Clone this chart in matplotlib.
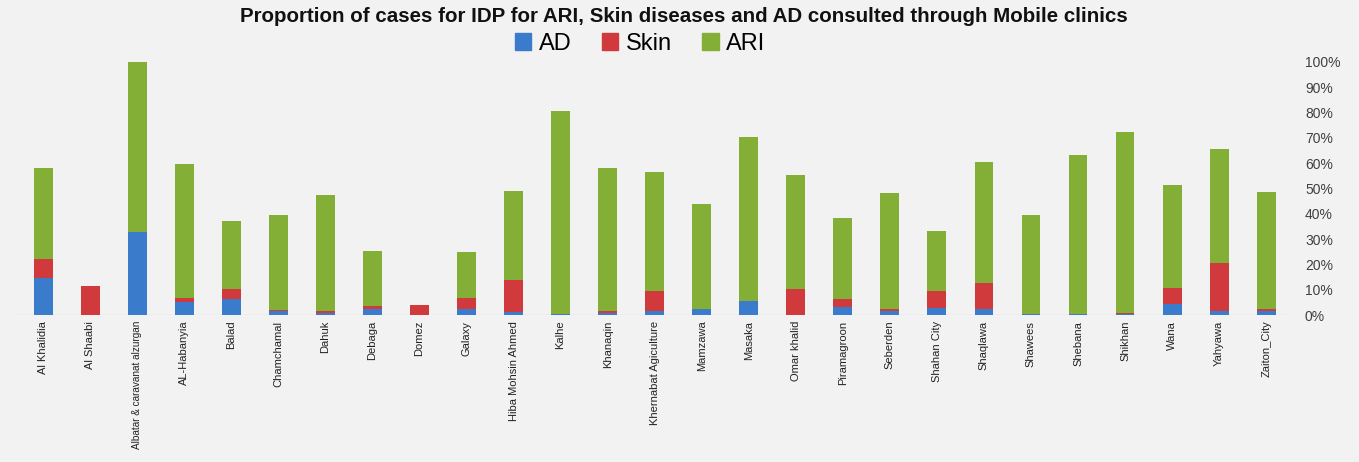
import matplotlib.pyplot as plt
from matplotlib.patches import Patch
from matplotlib.ticker import PercentFormatter

sites = ['Al Khalidia', 'Al Shaabi', 'Albatar & caravanat alzurgan', 'AL-Habanyia',
         'Balad', 'Chamchamal', 'Dahuk', 'Debaga', 'Domez', 'Galaxy',
         'Hiba Mohsin Ahmed', 'Kalhe', 'Khanaqin', 'Khernabat Agiculture',
         'Mamzawa', 'Masaka', 'Omar khalid', 'Piramagroon', 'Seberden',
         'Shahan City', 'Shaqlawa', 'Shawees', 'Shebana', 'Shikhan', 'Wana',
         'Yahyawa', 'Zaiton_City']

# shares in %
ad = [14.8, 0.0, 33.0, 5.0, 6.2, 1.7, 0.7, 2.4, 0.0, 2.5,
      1.1, 0.5, 0.8, 1.5, 2.3, 5.4, 0.0, 3.0, 1.6,
      2.8, 2.5, 0.6, 0.3, 0.3, 4.4, 1.5, 1.7]
skin = [7.4, 11.6, 0.0, 1.9, 4.2, 0.2, 0.8, 1.0, 3.8, 4.1,
        12.8, 0.0, 0.7, 8.1, 0.0, 0.0, 10.2, 3.3, 0.9,
        6.6, 10.3, 0.0, 0.0, 0.5, 6.3, 19.0, 0.8]
ari = [35.9, 0.0, 67.0, 52.6, 26.6, 37.7, 46.1, 21.8, 0.0, 18.2,
       35.1, 80.1, 56.6, 47.1, 41.7, 64.9, 45.0, 32.0, 45.9,
       23.9, 47.7, 38.9, 62.9, 71.6, 40.7, 45.0, 46.0]

blue = '#3b7bcc'
red = '#d13a3c'
green = '#83af36'
bg = '#f2f2f2'

plt.rcParams['font.family'] = ['Liberation Sans', 'DejaVu Sans']

fig = plt.figure(figsize=(13.59, 4.62), dpi=100, facecolor=bg)
ax = fig.add_axes([0.011, 0.318, 0.938, 0.548])
ax.set_facecolor(bg)

x = list(range(len(sites)))
w = 0.4
bottom2 = [a + s for a, s in zip(ad, skin)]
ax.bar(x, ad, width=w, color=blue, label='AD')
ax.bar(x, skin, width=w, bottom=ad, color=red, label='Skin')
ax.bar(x, ari, width=w, bottom=bottom2, color=green, label='ARI')

ax.axhline(0, color='#d9d9d9', lw=1, zorder=0)
ax.set_xlim(-0.6, 26.5)
ax.set_ylim(0, 100)
ax.set_yticks(range(0, 101, 10))
ax.yaxis.set_major_formatter(PercentFormatter(decimals=0))
ax.yaxis.tick_right()
ax.tick_params(axis='y', length=0, pad=11, labelsize=10, labelcolor='#404040')
ax.set_xticks(x)
ax.set_xticklabels(sites, rotation=90, fontsize=8, color='#222222')
ax.tick_params(axis='x', length=0, pad=4)
# the longest name has to fit above the bottom edge
for lab in ax.get_xticklabels():
    if len(lab.get_text()) > 25:
        lab.set_fontsize(7.2)
for s in ax.spines.values():
    s.set_visible(False)

fig.suptitle('Proportion of cases for IDP for ARI, Skin diseases and AD consulted through Mobile clinics',
             x=0.503, y=0.985, fontsize=14.8, fontweight='bold', color='#111111')
handles = [Patch(color=blue), Patch(color=red), Patch(color=green)]
fig.legend(handles, ['AD', 'Skin', 'ARI'], loc='center', bbox_to_anchor=(0.471, 0.905),
           ncol=3, frameon=False, fontsize=17, handlelength=0.7, handleheight=0.7,
           handletextpad=0.3, columnspacing=1.3)

plt.savefig('out.png', dpi=100, facecolor=bg)
